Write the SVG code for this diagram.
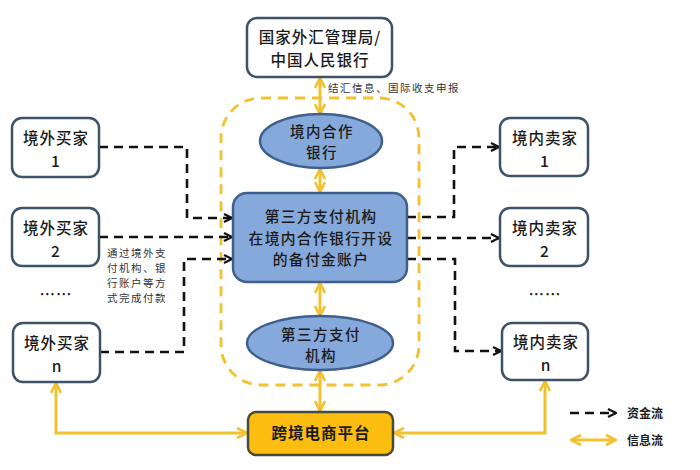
<svg xmlns="http://www.w3.org/2000/svg" width="700" height="470" viewBox="0 0 700 470">
<style>
text{font-family:"Noto Sans CJK SC","Noto Sans",sans-serif;fill:#1a1a1a;text-anchor:middle}
.box{fill:#fff;stroke:#3f5368;stroke-width:2.5}
.blue{fill:#86a9db;stroke:#3f5f8c;stroke-width:2.5}
.t{font-size:15.5px;font-weight:500;letter-spacing:1px}
.tm{font-size:14.5px;font-weight:500;letter-spacing:1.5px}
.money{fill:none;stroke:#111;stroke-width:2.6;stroke-dasharray:9 6}
.info{fill:none;stroke:#f2c130;stroke-width:3}
.note{font-size:10.5px;fill:#333;text-anchor:start;letter-spacing:1.5px}
</style>
<defs>
<marker id="ab" viewBox="0 0 10 10" refX="9" refY="5" markerWidth="10" markerHeight="10" markerUnits="userSpaceOnUse" orient="auto-start-reverse">
<path d="M1,1 L9,5 L1,9" fill="none" stroke="#111" stroke-width="2.2"/>
</marker>
<marker id="ay" viewBox="0 0 12 12" refX="11" refY="6" markerWidth="12" markerHeight="12" markerUnits="userSpaceOnUse" orient="auto-start-reverse">
<path d="M1,1 L11,6 L1,11" fill="none" stroke="#f2c130" stroke-width="2.6"/>
</marker>
</defs>
<rect width="700" height="470" fill="#fff"/>

<g id="region">
<rect x="221" y="98" width="198" height="287" rx="40" fill="none" stroke="#f2c130" stroke-width="2.8" stroke-dasharray="10 7"/>
</g>

<g id="connectors">
<polyline class="money" points="99,147 187,147 187,218 232,218" marker-end="url(#ab)"/>
<polyline class="money" points="99,237 232,237" marker-end="url(#ab)"/>
<polyline class="money" points="100,352 184,352 184,259 232,259" marker-end="url(#ab)"/>
<polyline class="money" points="407,217 454,217 454,147 499,147" marker-end="url(#ab)"/>
<polyline class="money" points="407,238 499,238" marker-end="url(#ab)"/>
<polyline class="money" points="407,259 455,259 455,351 501,351" marker-end="url(#ab)"/>
<line class="info" x1="320" y1="78" x2="320" y2="114" marker-start="url(#ay)" marker-end="url(#ay)"/>
<line class="info" x1="320" y1="169" x2="320" y2="192" marker-start="url(#ay)" marker-end="url(#ay)"/>
<line class="info" x1="320" y1="283" x2="320" y2="316" marker-start="url(#ay)" marker-end="url(#ay)"/>
<line class="info" x1="320" y1="371" x2="320" y2="411" marker-start="url(#ay)" marker-end="url(#ay)"/>
<polyline class="info" points="56,383 56,433 247,433" marker-start="url(#ay)" marker-end="url(#ay)"/>
<polyline class="info" points="545,381 545,433 394,433" marker-start="url(#ay)" marker-end="url(#ay)"/>
<text class="note" x="328" y="92">结汇信息、国际收支申报</text>
<text class="note" x="107" y="257">通过境外支</text>
<text class="note" x="107" y="272">付机构、银</text>
<text class="note" x="107" y="287">行账户等方</text>
<text class="note" x="107" y="302">式完成付款</text>
</g>

<g id="regulator">
<rect class="box" x="247" y="18" width="145" height="59" rx="10"/>
<text class="t" x="320" y="43">国家外汇管理局/</text>
<text class="t" x="320" y="66">中国人民银行</text>
</g>

<g id="partner-bank">
<ellipse class="blue" cx="321" cy="141" rx="61" ry="27"/>
<text class="tm" x="322" y="137">境内合作</text>
<text class="tm" x="322" y="158">银行</text>
</g>

<g id="reserve-account">
<rect class="blue" x="233" y="193" width="174" height="89" rx="14"/>
<text class="tm" x="321" y="222" style="font-size:14.8px;letter-spacing:1.3px">第三方支付机构</text>
<text class="tm" x="321" y="243.5" style="font-size:14.8px;letter-spacing:1.3px">在境内合作银行开设</text>
<text class="tm" x="321" y="265" style="font-size:14.8px;letter-spacing:1.3px">的备付金账户</text>
</g>

<g id="payment-institution">
<ellipse class="blue" cx="320" cy="343" rx="73" ry="27"/>
<text class="tm" x="321" y="340">第三方支付</text>
<text class="tm" x="321" y="361">机构</text>
</g>

<g id="platform">
<rect x="248" y="412" width="145" height="43" rx="8" fill="#fbbd0f" stroke="#4a4a3a" stroke-width="2.5"/>
<text x="321" y="439" style="font-size:15.5px;font-weight:bold;letter-spacing:1px">跨境电商平台</text>
</g>

<g id="buyer-1">
<rect class="box" x="12" y="118" width="87" height="59" rx="10"/>
<text class="t" x="56" y="144">境外买家</text>
<text class="t" x="56" y="166.5">1</text>
</g>
<g id="buyer-2">
<rect class="box" x="12" y="208" width="87" height="58" rx="10"/>
<text class="t" x="56" y="234">境外买家</text>
<text class="t" x="56" y="256.5">2</text>
</g>
<g id="buyer-dots"><text class="t" x="56" y="300">……</text></g>
<g id="buyer-n">
<rect class="box" x="13" y="323" width="87" height="59" rx="10"/>
<text class="t" x="57" y="349">境外买家</text>
<text class="t" x="57" y="371.5">n</text>
</g>

<g id="seller-1">
<rect class="box" x="500" y="118" width="88" height="58" rx="10"/>
<text class="t" x="545" y="144">境内卖家</text>
<text class="t" x="545" y="166.5">1</text>
</g>
<g id="seller-2">
<rect class="box" x="500" y="208" width="88" height="58" rx="10"/>
<text class="t" x="545" y="234">境内卖家</text>
<text class="t" x="545" y="256.5">2</text>
</g>
<g id="seller-dots"><text class="t" x="545" y="300">……</text></g>
<g id="seller-n">
<rect class="box" x="502" y="323" width="86" height="57" rx="10"/>
<text class="t" x="546" y="348">境内卖家</text>
<text class="t" x="546" y="370.5">n</text>
</g>

<g id="legend">
<line class="money" x1="570" y1="413" x2="616" y2="413" marker-end="url(#ab)"/>
<text x="627" y="418" style="font-size:12px;font-weight:bold;text-anchor:start">资金流</text>
<line class="info" x1="571" y1="440" x2="616" y2="440" marker-start="url(#ay)" marker-end="url(#ay)"/>
<text x="627" y="445" style="font-size:12px;font-weight:bold;text-anchor:start">信息流</text>
</g>
</svg>
